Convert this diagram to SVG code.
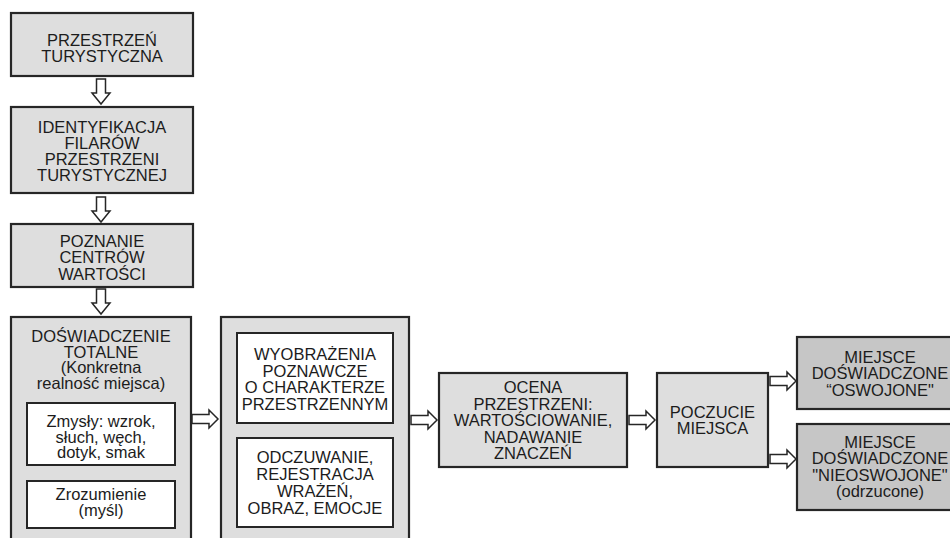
<svg xmlns="http://www.w3.org/2000/svg" width="950" height="538" viewBox="0 0 950 538">
<defs>
<style>
.box{fill:#dedede;stroke:#262626;stroke-width:2.2}
.dark{fill:#c6c6c6;stroke:#262626;stroke-width:2.2}
.inner{fill:#ffffff;stroke:#262626;stroke-width:2}
.arr{fill:#ffffff;stroke:#262626;stroke-width:1.5;stroke-linejoin:miter}
text{font-family:"Liberation Sans",Arial,sans-serif;font-size:16.5px;fill:#1c1c1c;text-anchor:middle}
</style>
<path id="ad" d="M-4.5,0 V14 H-9 L0,25 L9,14 H4.5 V0 Z"/>
<path id="ar" d="M0,-4.5 H17 V-9 L26,0 L17,9 V4.5 H0 Z"/>
</defs>
<rect width="950" height="538" fill="#ffffff"/>

<g id="n1">
<rect class="box" x="11" y="13" width="182" height="63"/>
<text x="102" y="46">PRZESTRZEŃ</text>
<text x="102" y="61.7">TURYSTYCZNA</text>
</g>

<g id="n2">
<rect class="box" x="11" y="107" width="182" height="86"/>
<text x="102" y="133">IDENTYFIKACJA</text>
<text x="102" y="149">FILARÓW</text>
<text x="102" y="165">PRZESTRZENI</text>
<text x="102" y="181">TURYSTYCZNEJ</text>
</g>

<g id="n3">
<rect class="box" x="11" y="224" width="182" height="63"/>
<text x="102" y="247">POZNANIE</text>
<text x="102" y="263.3">CENTRÓW</text>
<text x="102" y="279.6">WARTOŚCI</text>
</g>

<g id="n4">
<rect class="box" x="11" y="317" width="180" height="230"/>
<text x="101" y="342">DOŚWIADCZENIE</text>
<text x="101" y="357.7">TOTALNE</text>
<text x="101" y="373.4">(Konkretna</text>
<text x="101" y="389">realność miejsca)</text>
<g id="n4a">
<rect class="inner" x="27" y="403" width="148" height="62"/>
<text x="101" y="427">Zmysły: wzrok,</text>
<text x="101" y="442.5">słuch, węch,</text>
<text x="101" y="458">dotyk, smak</text>
</g>
<g id="n4b">
<rect class="inner" x="27" y="481" width="148" height="47"/>
<text x="101" y="500">Zrozumienie</text>
<text x="101" y="516">(myśl)</text>
</g>
</g>

<g id="n5">
<rect class="box" x="221" y="317" width="188" height="230"/>
<g id="n5a">
<rect class="inner" x="237" y="333" width="156" height="90"/>
<text x="315" y="360">WYOBRAŻENIA</text>
<text x="315" y="376.7">POZNAWCZE</text>
<text x="315" y="393.3">O CHARAKTERZE</text>
<text x="315" y="410">PRZESTRZENNYM</text>
</g>
<g id="n5b">
<rect class="inner" x="237" y="438" width="156" height="89"/>
<text x="315" y="463">ODCZUWANIE,</text>
<text x="315" y="480">REJESTRACJA</text>
<text x="315" y="497">WRAŻEŃ,</text>
<text x="315" y="513.5">OBRAZ, EMOCJE</text>
</g>
</g>

<g id="n6">
<rect class="box" x="439" y="373" width="188" height="94"/>
<text x="533" y="393">OCENA</text>
<text x="533" y="409.5">PRZESTRZENI:</text>
<text x="533" y="426">WARTOŚCIOWANIE,</text>
<text x="533" y="442.5">NADAWANIE</text>
<text x="533" y="459">ZNACZEŃ</text>
</g>

<g id="n7">
<rect class="box" x="657" y="373" width="111" height="94"/>
<text x="712.5" y="418">POCZUCIE</text>
<text x="712.5" y="434">MIEJSCA</text>
</g>

<g id="n8">
<rect class="dark" x="797" y="337" width="166" height="72"/>
<text x="880" y="362.5">MIEJSCE</text>
<text x="880" y="379">DOŚWIADCZONE</text>
<text x="880" y="395.5">“OSWOJONE"</text>
</g>

<g id="n9">
<rect class="dark" x="797" y="424" width="166" height="86"/>
<text x="880" y="447.5">MIEJSCE</text>
<text x="880" y="464">DOŚWIADCZONE</text>
<text x="880" y="480.5">"NIEOSWOJONE"</text>
<text x="880" y="497">(odrzucone)</text>
</g>

<g id="connectors">
<use href="#ad" class="arr" x="101" y="79"/>
<use href="#ad" class="arr" x="101" y="197"/>
<use href="#ad" class="arr" x="101" y="289"/>
<use href="#ar" class="arr" x="192" y="419"/>
<use href="#ar" class="arr" x="411" y="420"/>
<use href="#ar" class="arr" x="629" y="420"/>
<use href="#ar" class="arr" x="770" y="381"/>
<use href="#ar" class="arr" x="770" y="459"/>
</g>
</svg>
